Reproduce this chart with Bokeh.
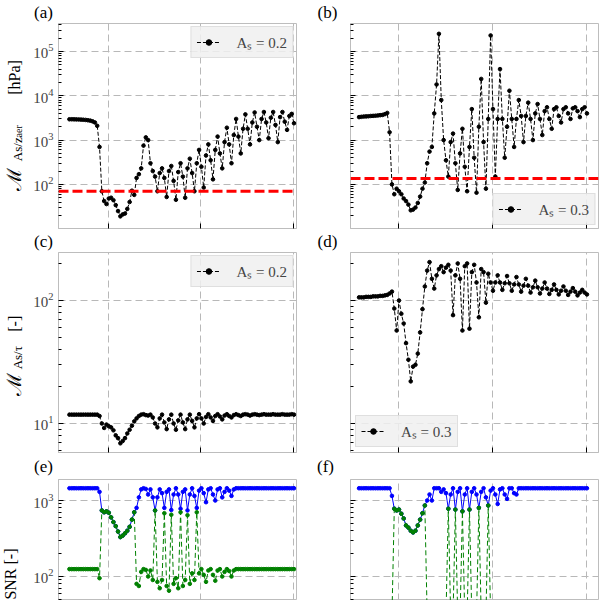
import numpy as np

from bokeh.plotting import figure
from bokeh.layouts import column, row
from bokeh.models import Range1d, FixedTicker, Span, Legend, LegendItem, CustomJSTickFormatter
from bokeh.core.properties import value
from bokeh.embed import file_html
from bokeh.resources import INLINE

#-------------- data ----------#
days = np.arange(98) * 0.25 + 5.8          # 6-hourly samples [day]
x_ticks = [10, 20, 30]

# (a) / (b) : M_As/z_aer [hPa]
mass_02 = ([2950, 2950, 2940, 2930, 2920, 2900, 2880, 2850, 2800, 2750, 2650, 2500]
           + [2100, 700, 70, 42, 36, 48, 50, 44, 34, 25, 19, 21, 22, 28, 40, 72, 58, 140, 170, 230, 750, 1150, 1000, 300, 200]
           + [150, 70, 180, 230, 140, 52, 200, 260, 120, 45, 190, 300, 150, 50, 230, 380,
              180, 70, 300, 600, 250, 85, 450, 800, 350, 130, 600, 1200, 500, 230, 900, 1900,
              800, 300, 1300, 3000, 1200, 500, 1800, 3800, 1800, 800, 2500, 4200, 2000, 1000, 3000, 4300,
              2500, 1100, 3200, 4300, 2200, 900, 3300, 4300, 2600, 1700, 3500, 3900, 2400])
mass_03 = ([3300, 3350, 3400, 3420, 3450, 3500, 3520, 3550, 3600, 3650, 3700, 3850, 4100]
           + [1500, 100, 60, 80, 70, 60, 48, 42, 35, 26, 27, 30, 38, 53, 80, 110, 300, 550, 700, 4000,
              18000, 250000, 8000, 1000, 350, 150]
           + [900, 1400, 300, 75, 500, 1800, 250, 70, 700, 5000, 400, 65, 2000, 24000, 900, 80,
              3000, 230000, 5000, 150, 3000, 40000, 3000, 400, 2000, 13000, 3000, 700, 3000, 8000,
              3500, 900, 3500, 7000, 3000, 1000, 4000, 6500, 3000, 1300, 4500, 5500, 3000, 1800,
              5000, 5500, 3500, 2500, 5000, 5500, 4000, 3000, 5200, 5500, 4500, 3300, 5000, 5500, 4000])
thr_02 = 70
thr_03 = 135

# (c) / (d) : M_As/tau [-]
ratio_02 = ([11.8] * 13
            + [11.5, 10.0, 9.2, 9.8, 9.5, 9.3, 8.8, 8.0, 7.6, 6.9, 7.2, 7.6, 8.3, 8.9, 9.6, 10.4, 11.0, 11.5,
               11.8, 11.9, 11.7, 11.6, 11.8, 11.2]
            + [10.0, 9.3, 11.0, 11.8, 10.2, 9.0, 10.8, 11.8, 10.0, 8.9, 10.6, 11.8, 10.2, 9.0, 10.8, 11.8,
               10.5, 9.3, 11.0, 11.9, 11.0, 10.0, 11.3, 11.9, 11.2, 10.5, 11.5, 11.9, 11.4, 10.8, 11.6, 11.9,
               11.5, 11.2, 11.7, 11.9, 11.7, 11.5, 11.8, 11.9, 11.8, 11.6, 11.8, 11.9, 11.8, 11.7, 11.8]
            + [11.9, 11.8, 11.8, 11.8, 11.9, 11.8, 11.8, 11.8, 11.9, 11.8, 11.8, 11.8, 11.9, 11.8])
ratio_03 = ([106, 106, 106, 107, 107, 107, 108, 108, 108, 109, 109, 110, 111, 114, 118]
            + [86, 57, 100, 78, 65, 45, 33, 22, 29, 30, 37, 55, 85, 130, 175, 205, 150, 125, 160, 180,
               190, 170, 185, 195, 175]
            + [76, 160, 200, 150, 57, 190, 200, 59, 170, 195, 140, 73, 180, 170, 96]
            + [165, 140, 120, 140, 160, 140, 122, 138, 158, 138, 120, 135, 155, 135, 118, 132, 150, 132,
               116, 128, 145, 128, 114, 125, 140, 125, 113, 122, 135, 122, 112, 120, 130, 120, 111, 118,
               126, 118, 110, 116, 122, 116, 112])

# (e) / (f) : SNR [-]
snr_max_02 = ([1450] * 13
              + [1300, 740, 700, 720, 690, 600, 520, 460, 390, 330, 345, 370, 400, 450, 560, 700]
              + [800, 1100, 1400, 1450, 1420, 1200, 1400, 1100, 740, 1100, 1400, 1250, 800, 1300, 1400,
                 750, 1200, 1450, 1200, 780, 1300, 1400, 740, 1200, 1450, 1150, 800, 1350, 1450, 1250,
                 950, 1400, 1450, 1200, 1000, 1400, 1450, 1100, 1300, 1450, 1350, 1150, 1400, 1450]
              + [1450] * 25)
snr_sel_02 = ([125] * 13
              + [95, 740, 700, 720, 690, 600, 520, 460, 390, 330, 345, 370, 400, 450, 560, 700]
              + [80, 75, 115, 125, 122, 100, 120, 90, 740, 85, 70, 90, 680, 75, 65, 650, 80, 95, 70, 700,
                 75, 90, 640, 80, 110, 90, 700, 110, 125, 105, 85, 120, 125, 105, 88, 120, 125, 100, 115,
                 125, 118, 100, 120, 125]
              + [125] * 25)
snr_max_03 = ([1450] * 14
              + [1150, 780, 740, 760, 670, 580, 470, 440, 400, 380, 400, 470, 560, 680, 860, 1000, 1200,
                 1000, 1450, 1450, 1450, 1300, 1400, 1250]
              + [780, 1200, 1450, 760, 1300, 1450, 720, 1200, 1450, 760, 1300, 1450, 1200, 800, 1300,
                 1450, 1100, 860, 1350, 1450, 1200, 900, 1400, 1450, 1200, 1050, 1450, 1450, 1250, 1200, 1450]
              + [1450] * 29)
snr_sel_03 = ([30] * 15
              + [780, 740, 760, 670, 580, 470, 440, 400, 380, 400, 470, 560, 680, 860]
              + [30] * 9
              + [780, 30, 30, 760, 30, 30, 720, 30, 30, 760, 30, 30, 30, 800, 30, 30, 30, 860]
              + [30] * 42)
#-----------------------------------------------------#

FONT = "Liberation Serif"
FRAME = "#bdbdbd"
GRID = "#b8b8b8"

MINOR = [m * 10.0 ** e for e in range(-1, 7) for m in range(2, 10)]
BLANK = "return ''"


def make_panel(w, h, xr, yr, borders, y_major, left_col, x_axis=True):
    left, right, top, bottom = borders
    p = figure(width=w, height=h, x_range=Range1d(*xr), y_range=Range1d(*yr), y_axis_type="log",
               output_backend="svg", toolbar_location=None,
               min_border_left=left, min_border_right=right, min_border_top=top, min_border_bottom=bottom)
    p.background_fill_color = "white"
    p.border_fill_color = "white"
    p.outline_line_color = FRAME
    p.outline_line_width = 1

    for ax in p.axis:
        ax.axis_line_color = FRAME
        ax.major_tick_in = 5
        ax.major_tick_out = 0
        ax.minor_tick_in = 3
        ax.minor_tick_out = 0
        ax.major_tick_line_color = "black"
        ax.minor_tick_line_color = "black"
        ax.major_label_text_font = FONT
        ax.major_label_text_font_size = "15px"

    p.xaxis.ticker = FixedTicker(ticks=x_ticks)
    p.xaxis.minor_tick_line_color = None
    p.xaxis.formatter = CustomJSTickFormatter(code=BLANK)
    p.xaxis.major_label_text_font_size = "1px"
    p.xaxis.major_label_standoff = 0
    p.xaxis.visible = x_axis

    p.yaxis.ticker = FixedTicker(ticks=y_major, minor_ticks=MINOR)
    if left_col:
        p.yaxis.major_label_standoff = 5
    else:
        p.yaxis.formatter = CustomJSTickFormatter(code=BLANK)
        p.yaxis.major_label_text_font_size = "1px"
        p.yaxis.major_label_standoff = 0

    p.xgrid.ticker = FixedTicker(ticks=x_ticks)
    p.ygrid.ticker = FixedTicker(ticks=y_major)
    for g in (p.xgrid, p.ygrid):
        g.grid_line_color = GRID
        g.grid_line_dash = "7 4"
        g.grid_line_width = 1
    return p


def add_series(p, y, color, dash):
    x = days[:len(y)]
    l = p.line(x, y, line_color=color, line_width=1, line_dash=dash)
    s = p.scatter(x, y, size=3.6, color=color)
    return [l, s]


def add_legend(p, label, rends, loc, margin):
    leg = Legend(items=[LegendItem(label=label, renderers=rends)], location=loc)
    leg.background_fill_color = "#f0f0f0"
    leg.background_fill_alpha = 0.85
    leg.border_line_color = "#cccccc"
    leg.label_text_font = FONT
    leg.label_text_font_size = "15px"
    leg.margin = margin
    leg.padding = 5
    leg.spacing = 0
    leg.glyph_width = 24
    leg.glyph_height = 14
    leg.label_height = 14
    leg.label_standoff = 16
    p.add_layout(leg)


def text_strip(w, h):
    # blank canvas whose data units are pixels, used for texts outside the plot frames
    s = figure(width=w, height=h, x_range=Range1d(0, w), y_range=Range1d(0, h),
               x_axis_location=None, y_axis_location=None, output_backend="svg", toolbar_location=None,
               min_border_left=0, min_border_right=0, min_border_top=0, min_border_bottom=0)
    s.outline_line_color = None
    s.background_fill_color = "white"
    s.border_fill_color = "white"
    s.grid.visible = False
    return s


def put(s, x, y, txt, size, font=FONT, angle=0.0, align="center"):
    s.text(x=[x], y=[y], text=[txt], angle=angle, text_font=value(font), text_font_size=value(size),
           text_align=align, text_baseline="middle", text_color="black")


XR_L = (4.62, 30.32)
XR_R = (4.89, 31.28)
YR_M = (10.1, 428000)
YR_R = (5.81, 245.5)
YR_S = (48.3, 1890)

# widths: y-label strip 30, column 1: 284, column 2: 286  (600 in all)
B_L = (27, 18)
B_R = (36, 2)

#------------- row 1 : mass ------------#
pa = make_panel(284, 207, XR_L, YR_M, B_L + (0, 2), [1e2, 1e3, 1e4, 1e5], True)
ra = add_series(pa, mass_02, "black", "4 2")
pa.add_layout(Span(location=thr_02, dimension="width", line_color="red", line_width=3, line_dash="10 4"))
add_legend(pa, "A\u209b = 0.2", ra, "top_right", 3)

pb = make_panel(286, 207, XR_R, YR_M, B_R + (0, 2), [1e2, 1e3, 1e4, 1e5], False)
rb = add_series(pb, mass_03, "black", "4 2")
pb.add_layout(Span(location=thr_03, dimension="width", line_color="red", line_width=3, line_dash="10 4"))
add_legend(pb, "A\u209b = 0.3", rb, "bottom_right", 3)

#------------- row 2 : ratio ------------#
pc = make_panel(284, 202, XR_L, YR_R, B_L + (0, 2), [1e1, 1e2], True)
rc = add_series(pc, ratio_02, "black", "4 2")
add_legend(pc, "A\u209b = 0.2", rc, "top_right", 3)

pd_ = make_panel(286, 202, XR_R, YR_R, B_R + (0, 2), [1e1, 1e2], False)
rd = add_series(pd_, ratio_03, "black", "4 2")
add_legend(pd_, "A\u209b = 0.3", rd, "bottom_left", 5)

#------------- row 3 : SNR (cut at the bottom) ------------#
pe = make_panel(284, 121, XR_L, YR_S, B_L + (0, 0), [1e2, 1e3], True, x_axis=False)
add_series(pe, snr_max_02, "blue", "solid")
add_series(pe, snr_sel_02, "green", "5 3")

pf = make_panel(286, 121, XR_R, YR_S, B_R + (0, 0), [1e2, 1e3], False, x_axis=False)
add_series(pf, snr_max_03, "blue", "solid")
add_series(pf, snr_sel_03, "green", "5 3")

#------------- panel letters ------------#
top_a = text_strip(600, 23)
put(top_a, 43, 11.5, "(a)", "17px")
put(top_a, 327, 11.5, "(b)", "17px")
top_c = text_strip(600, 22)
put(top_c, 43, 11.5, "(c)", "17px")
put(top_c, 327, 11.5, "(d)", "17px")
top_e = text_strip(600, 25)
put(top_e, 43, 13, "(e)", "17px")
put(top_e, 325, 13, "(f)", "17px")

#------------- y labels ------------#
up = np.pi / 2
lab_a = text_strip(30, 207)
put(lab_a, 13.5, 38, "\u2133", "20px", font="DejaVu Serif", angle=up, align="left")
put(lab_a, 16.5, 68, "As/z", "13px", angle=up, align="left")
put(lab_a, 18, 92, "aer", "10px", angle=up, align="left")
put(lab_a, 13.5, 135, "[hPa]", "16px", angle=up, align="left")

lab_c = text_strip(30, 202)
put(lab_c, 13.5, 57, "\u2133", "20px", font="DejaVu Serif", angle=up, align="left")
put(lab_c, 16.5, 84, "As/\u03c4", "13px", angle=up, align="left")
put(lab_c, 13.5, 122, "[-]", "16px", angle=up, align="left")

lab_e = text_strip(30, 121)
put(lab_e, 10, 52, "SNR [-]", "16px", angle=up, align="right")

layout = column(top_a, row(lab_a, pa, pb), top_c, row(lab_c, pc, pd_), top_e, row(lab_e, pe, pf))
open("out.html", "w").write(file_html(layout, INLINE))
